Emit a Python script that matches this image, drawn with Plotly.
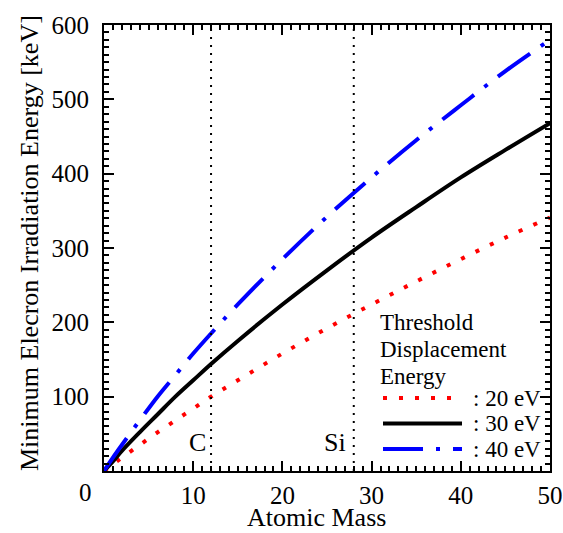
import plotly.graph_objects as go

# Atomic mass (amu) sample points
atomic_mass = [0, 1, 2, 4, 6, 8, 10, 12, 15, 20, 25, 30, 35, 40, 45, 50]

# Minimum electron energy (keV) for each threshold displacement energy
energy_20eV = [0, 9, 18, 35, 52, 68, 84, 100, 122, 158, 192, 224, 255, 285, 314, 341]
energy_30eV = [0, 13, 27, 52, 76, 100, 122, 144, 175, 224, 270, 314, 355, 395, 432, 468]
energy_40eV = [0, 18, 35, 68, 100, 129, 158, 185, 224, 285, 342, 395, 445, 492, 538, 580]

# Reference elements marked with vertical lines
element_names = ["C", "Si"]
element_masses = [12, 28]

x_ticks = [0, 10, 20, 30, 40, 50]
x_tick_text = ["", "10", "20", "30", "40", "50"]
y_ticks = [0, 100, 200, 300, 400, 500, 600]
y_tick_text = ["", "100", "200", "300", "400", "500", "600"]

legend_title = ["Threshold", "Displacement", "Energy"]
legend_labels = [": 20 eV", ": 30 eV", ": 40 eV"]

FONT = "Liberation Serif"
W, H = 563, 533
ML, MR, MT, MB = 104, 13, 25, 62
PW, PH = W - ML - MR, H - MT - MB


def xp(px):
    return (px - ML) / PW


def yp(py):
    return (H - MB - py) / PH


RED_DOT = "4px,12px"
BLUE_DASHDOT = "40px,13px,4px,13px"
styles = [
    dict(color="#ff0000", width=4, dash=RED_DOT),
    dict(color="#000000", width=4, dash="solid"),
    dict(color="#0000ff", width=4, dash=BLUE_DASHDOT),
]

fig = go.Figure()
for series, st in zip([energy_20eV, energy_30eV, energy_40eV], styles):
    fig.add_trace(go.Scatter(
        x=atomic_mass, y=series, mode="lines",
        line=dict(color=st["color"], width=st["width"], dash=st["dash"], shape="spline"),
        showlegend=False, hoverinfo="skip",
    ))

shapes = []
annotations = []

# Vertical dotted markers for carbon and silicon
for name, m in zip(element_names, element_masses):
    shapes.append(dict(type="line", xref="x", yref="paper", x0=m, x1=m, y0=0, y1=1,
                       line=dict(color="black", width=2, dash="2px,6px")))
label_px = {"C": 197, "Si": 335}
for name in element_names:
    annotations.append(dict(text=name, xref="paper", yref="paper",
                            x=xp(label_px[name]), y=yp(442), showarrow=False,
                            xanchor="center", yanchor="middle",
                            font=dict(family=FONT, size=26, color="black")))

# Legend block
for i, t in enumerate(legend_title):
    annotations.append(dict(text=t, xref="paper", yref="paper",
                            x=xp(378), y=yp(323 + 26.5 * i), showarrow=False,
                            xanchor="left", yanchor="middle",
                            font=dict(family=FONT, size=23, color="black")))
for i, (lab, st) in enumerate(zip(legend_labels, styles)):
    ly = 398 + 25.5 * i
    shapes.append(dict(type="line", xref="paper", yref="paper",
                       x0=xp(383), x1=xp(462), y0=yp(ly), y1=yp(ly),
                       line=dict(color=st["color"], width=st["width"], dash=st["dash"])))
    annotations.append(dict(text=lab, xref="paper", yref="paper",
                            x=xp(471), y=yp(ly), showarrow=False,
                            xanchor="left", yanchor="middle",
                            font=dict(family=FONT, size=23, color="black")))

# Shared origin label and axis titles
annotations.append(dict(text="0", xref="paper", yref="paper", x=xp(85), y=yp(492),
                        showarrow=False, xanchor="center", yanchor="middle",
                        font=dict(family=FONT, size=25, color="black")))
annotations.append(dict(text="Atomic Mass", xref="paper", yref="paper", x=xp(316), y=yp(517),
                        showarrow=False, xanchor="center", yanchor="middle",
                        font=dict(family=FONT, size=26, color="black")))
annotations.append(dict(text="Minimum Elecron Irradiation Energy [keV]", xref="paper", yref="paper",
                        x=xp(30), y=yp(243), textangle=-90,
                        showarrow=False, xanchor="center", yanchor="middle",
                        font=dict(family=FONT, size=26, color="black")))

axis_common = dict(
    showline=True, linecolor="black", linewidth=2, mirror="allticks",
    ticks="inside", ticklen=10, tickwidth=2, tickcolor="black",
    showgrid=False, zeroline=False, tickmode="array", automargin=False,
    tickfont=dict(family=FONT, size=25, color="black"),
)

fig.update_xaxes(range=[0, 50], tickvals=x_ticks, ticktext=x_tick_text,
                 ticklabelstandoff=1,
                 minor=dict(tickmode="linear", tick0=0, dtick=1, ticks="inside",
                            ticklen=5, tickwidth=1.5, tickcolor="black", showgrid=False),
                 **axis_common)
fig.update_yaxes(range=[0, 600], tickvals=y_ticks, ticktext=y_tick_text,
                 ticklabelstandoff=8,
                 minor=dict(tickmode="linear", tick0=0, dtick=10, ticks="inside",
                            ticklen=5, tickwidth=1.5, tickcolor="black", showgrid=False),
                 **axis_common)

fig.update_layout(
    width=W, height=H,
    margin=dict(l=ML, r=MR, t=MT, b=MB),
    paper_bgcolor="white", plot_bgcolor="white",
    shapes=shapes, annotations=annotations,
    showlegend=False,
)

fig.write_html("out.html")
